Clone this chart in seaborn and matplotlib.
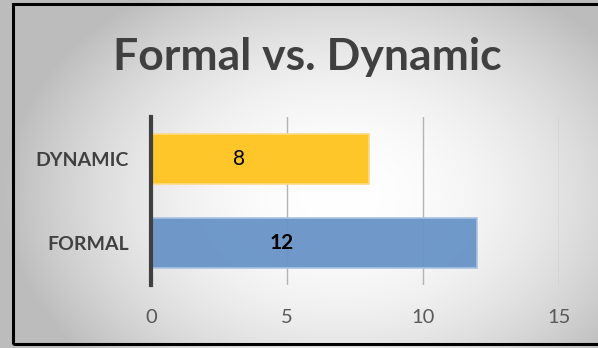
import numpy as np
import pandas as pd
import matplotlib
matplotlib.use("Agg")
import matplotlib.pyplot as plt
import seaborn as sns
from matplotlib.patches import Rectangle

# ----------- données -----------
categories = ["DYNAMIC", "FORMAL"]
values = [8, 12]
bar_colors = ["#FFC629", "#6A95C8"]
edge_colors = ["#FFDA85", "#A9C2E2"]
label_bold = [False, True]
label_pos = [3.25, 4.8]   # position x des étiquettes (comme dans l'original)
x_ticks = [0, 5, 10, 15]

df = pd.DataFrame({"cat": categories, "val": values})

sns.set_style("white")
plt.rcParams["font.family"] = ["Lato", "DejaVu Sans"]

fig = plt.figure(figsize=(5.98, 3.48), dpi=100)

# fond en dégradé radial
bg = fig.add_axes([0, 0, 1, 1], zorder=-10)
yy, xx = np.mgrid[0:348, 0:598]
d = np.sqrt(((xx - 340) / 330.0) ** 2 + ((yy - 195) / 240.0) ** 2)
shade = np.clip(1.0 - 0.25 * d ** 2.0, 0.74, 1.0)
bg.imshow(np.dstack([shade, shade, shade]), aspect="auto", extent=[0, 1, 0, 1])
bg.axis("off")

# cadre noir
fig.patches.append(Rectangle((13 / 598, 4 / 348), 600 / 598, 340 / 348,
                             transform=fig.transFigure, fill=False,
                             edgecolor="black", linewidth=2.2))

ax = fig.add_axes([151 / 598, 1 - 285 / 348, 408 / 598, 168 / 348])
ax.patch.set_alpha(0)
sns.barplot(data=df, x="val", y="cat", order=categories, hue="cat",
            palette=bar_colors, saturation=1, orient="h", width=0.6, ax=ax,
            legend=False, zorder=3)
for p, ec in zip(ax.patches, edge_colors):
    p.set_edgecolor(ec)
    p.set_linewidth(1.2)
ax.patches[1].set_alpha(0.96)

ax.set_xlim(0, 15)
ax.set_ylim(1.5, -0.5)
ax.set_xticks(x_ticks)
ax.set_xticklabels([str(t) for t in x_ticks])
ax.grid(axis="x", color="#B4B4B4", linewidth=1, zorder=0)
ax.set_axisbelow(True)
for s in ["top", "right", "bottom"]:
    ax.spines[s].set_visible(False)
ax.spines["left"].set_color("#404040")
ax.spines["left"].set_linewidth(3)
ax.spines["left"].set_zorder(5)
ax.tick_params(axis="x", length=0, pad=17, labelsize=14.5, labelcolor="#595959")
ax.tick_params(axis="y", length=0, pad=16, labelsize=14, labelcolor="#404040")
for lab in ax.get_yticklabels():
    lab.set_fontweight("bold")
ax.set_xlabel("")
ax.set_ylabel("")

for i, (v, b) in enumerate(zip(values, label_bold)):
    ax.text(label_pos[i], i, str(v), ha="center", va="center", fontsize=15,
            fontweight="bold" if b else "normal", color="black", zorder=6)

fig.text(307 / 598, 1 - 57 / 348, "Formal vs. Dynamic", ha="center", va="center",
         fontsize=32, fontweight="bold", color="#404040")

fig.savefig("out.png", dpi=100)
